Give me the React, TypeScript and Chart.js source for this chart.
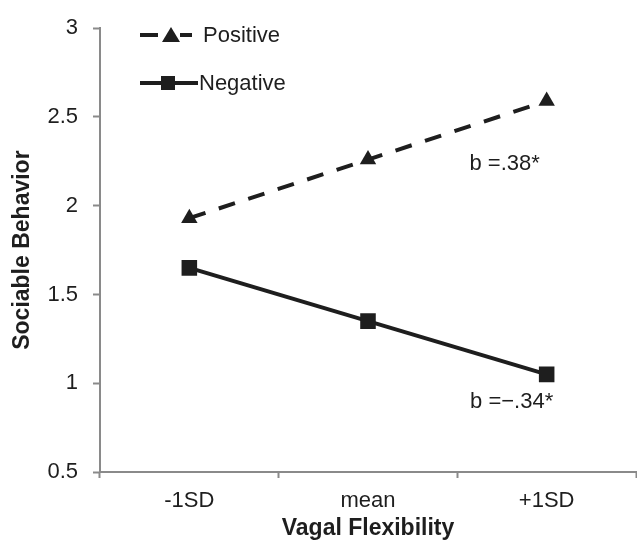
import React, { useEffect, useRef } from "react";
import { Chart, registerables } from "chart.js";

Chart.register(...registerables);

const categories = ["-1SD", "mean", "+1SD"];
const positiveValues = [1.93, 2.26, 2.59];
const negativeValues = [1.65, 1.35, 1.05];
const seriesNames = ["Positive", "Negative"];
const slopeLabels = ["b =.38*", "b =\u2212.34*"];
const yTickValues = [0.5, 1, 1.5, 2, 2.5, 3];

const FONT = "'Liberation Sans', Arial, sans-serif";
const AXIS = "#8a8a8a";
const INK = "#1e1e1e";

const overlayPlugin = {
  id: "overlay",
  afterDraw(chart: any) {
    const ctx = chart.ctx;
    const xs = chart.scales.x;
    const ys = chart.scales.y;
    ctx.save();
    ctx.strokeStyle = INK;
    ctx.fillStyle = INK;
    ctx.lineWidth = 4;
    // legend: Positive (dashed with triangle)
    const py = 35;
    ctx.beginPath();
    ctx.moveTo(140, py);
    ctx.lineTo(158, py);
    ctx.moveTo(180, py);
    ctx.lineTo(192, py);
    ctx.stroke();
    ctx.beginPath();
    ctx.moveTo(171, py - 8);
    ctx.lineTo(180, py + 7);
    ctx.lineTo(162, py + 7);
    ctx.closePath();
    ctx.fill();
    // legend: Negative (solid with square)
    const ny = 83;
    ctx.beginPath();
    ctx.moveTo(140, ny);
    ctx.lineTo(198, ny);
    ctx.stroke();
    ctx.fillRect(161, ny - 7, 14, 14);
    ctx.font = `22px ${FONT}`;
    ctx.textAlign = "left";
    ctx.textBaseline = "middle";
    ctx.fillText(seriesNames[0], 203, py + 1);
    ctx.fillText(seriesNames[1], 199, ny + 1);
    // slope annotations
    ctx.font = `22px ${FONT}`;
    ctx.textAlign = "center";
    ctx.textBaseline = "middle";
    const xp = xs.getPixelForValue(2);
    ctx.fillText(slopeLabels[0], xp - 42, ys.getPixelForValue(positiveValues[2]) + 63);
    ctx.fillText(slopeLabels[1], xp - 35, ys.getPixelForValue(negativeValues[2]) + 28);
    ctx.restore();
  },
};

export default function App() {
  const ref = useRef<HTMLCanvasElement | null>(null);
  useEffect(() => {
    if (!ref.current) return;
    const chart = new Chart(ref.current, {
      type: "line",
      data: {
        labels: categories,
        datasets: [
          {
            label: seriesNames[0],
            data: positiveValues,
            borderColor: INK,
            backgroundColor: INK,
            borderWidth: 4,
            borderDash: [17, 14],
            pointStyle: "triangle",
            pointRadius: 9.5,
            pointBorderWidth: 0,
            pointBackgroundColor: INK,
            tension: 0,
          },
          {
            label: seriesNames[1],
            data: negativeValues,
            borderColor: INK,
            backgroundColor: INK,
            borderWidth: 4,
            pointStyle: "rect",
            pointRadius: 11,
            pointBorderWidth: 0,
            pointBackgroundColor: INK,
            tension: 0,
          },
        ],
      },
      options: {
        animation: false,
        responsive: false,
        layout: { padding: { top: 25, right: 2, left: 0, bottom: 0 } },
        plugins: { legend: { display: false }, tooltip: { enabled: false } },
        scales: {
          x: {
            offset: true,
            grid: {
              offset: true,
              display: true,
              drawOnChartArea: false,
              drawTicks: true,
              tickLength: 6,
              tickColor: AXIS,
              tickWidth: 2,
            },
            border: { display: true, color: AXIS, width: 2 },
            ticks: { color: INK, font: { family: FONT, size: 22 }, padding: 10, maxRotation: 0 },
            title: {
              display: true,
              text: "Vagal Flexibility",
              color: INK,
              font: { family: FONT, size: 23, weight: "bold" },
              padding: { top: 3, bottom: 2 },
            },
            afterFit(scale: any) {
              scale.height = 72;
            },
          },
          y: {
            min: 0.5,
            max: 3,
            afterBuildTicks(scale: any) {
              scale.ticks = yTickValues.map((v) => ({ value: v }));
            },
            grid: {
              display: true,
              drawOnChartArea: false,
              drawTicks: true,
              tickLength: 7,
              tickColor: AXIS,
              tickWidth: 2,
            },
            border: { display: true, color: AXIS, width: 2 },
            ticks: {
              color: INK,
              font: { family: FONT, size: 22 },
              padding: 15,
              callback: (v: any) => String(v),
            },
            title: {
              display: true,
              text: "Sociable Behavior",
              color: INK,
              font: { family: FONT, size: 23, weight: "bold" },
              padding: { top: 9, bottom: 2 },
            },
            afterFit(scale: any) {
              scale.width = 100;
            },
          },
        },
      },
      plugins: [overlayPlugin],
    });
    return () => chart.destroy();
  }, []);
  return (
    <div style={{ position: "fixed", left: 0, top: 0, width: 637, height: 544, overflow: "hidden", background: "#fff" }}>
      <canvas ref={ref} width={647} height={544} style={{ display: "block", width: 647, height: 544 }} />
    </div>
  );
}
